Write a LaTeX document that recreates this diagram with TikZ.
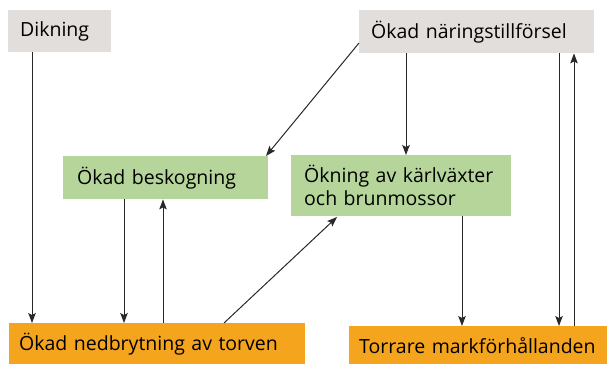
\documentclass[tikz,border=0pt]{standalone}
\usepackage{fontspec}
\setmainfont{Open Sans}
\usetikzlibrary{arrows.meta}
\definecolor{boxgray}{RGB}{226,222,220}
\definecolor{boxgreen}{RGB}{181,213,155}
\definecolor{boxorange}{RGB}{245,164,30}
\definecolor{linecol}{RGB}{40,40,40}
\tikzset{
  box/.style={anchor=north west, inner ysep=0pt, align=left, font=\fontsize{19.5}{23}\selectfont, text=black},
  arr/.style={draw=linecol, line width=1pt, -{Stealth[length=10pt,width=7.5pt,inset=2pt]}},
}
\begin{document}
\begin{tikzpicture}[x=1pt,y=-1pt]
\useasboundingbox (0,0) rectangle (607,365);
\node[box, fill=boxgray, minimum width=103pt, minimum height=42pt, inner xsep=12pt, text width=79pt] (dik) at (8,10) {Dikning};
\node[box, fill=boxgray, minimum width=235pt, minimum height=43pt, inner xsep=12pt, text width=211pt] (nar) at (359,10) {Ökad näringstillförsel};
\node[box, fill=boxgreen, minimum width=205pt, minimum height=43pt, inner xsep=14pt, text width=177pt] (besk) at (63,156) {Ökad beskogning};
\node[box, fill=boxgreen, minimum width=220pt, minimum height=61pt, inner xsep=13pt, text width=194pt] (okn) at (291,155) {Ökning av kärlväxter\\och brunmossor};
\node[box, fill=boxorange, minimum width=296pt, minimum height=41pt, inner xsep=10pt, text width=276pt] (ned) at (9,323) {Ökad nedbrytning av torven};
\node[box, fill=boxorange, minimum width=258pt, minimum height=38pt, inner xsep=10pt, text width=238pt] (torr) at (349,326) {Torrare markförhållanden};
\coordinate (x32) at (32,0);
\coordinate (x124) at (124,0);
\coordinate (x163) at (163,0);
\coordinate (x406) at (406,0);
\coordinate (x462) at (462,0);
\coordinate (x559) at (559,0);
\coordinate (x574) at (574,0);
\coordinate (n1) at (359,43);
\coordinate (b1) at (266,156);
\coordinate (o1) at (224,323);
\coordinate (k1) at (337,217);
\draw[arr] (x32 |- dik.south) -- (x32 |- ned.north);
\draw[arr] (x124 |- besk.south) -- (x124 |- ned.north);
\draw[arr] (x163 |- ned.north) -- (x163 |- besk.south);
\draw[arr] (n1) -- (b1);
\draw[arr] (o1) -- (k1);
\draw[arr] (x406 |- nar.south) -- (x406 |- okn.north);
\draw[arr] (x462 |- okn.south) -- (x462 |- torr.north);
\draw[arr] (x559 |- nar.south) -- (x559 |- torr.north);
\draw[arr] (x574 |- torr.north) -- (x574 |- nar.south);
\end{tikzpicture}
\end{document}
